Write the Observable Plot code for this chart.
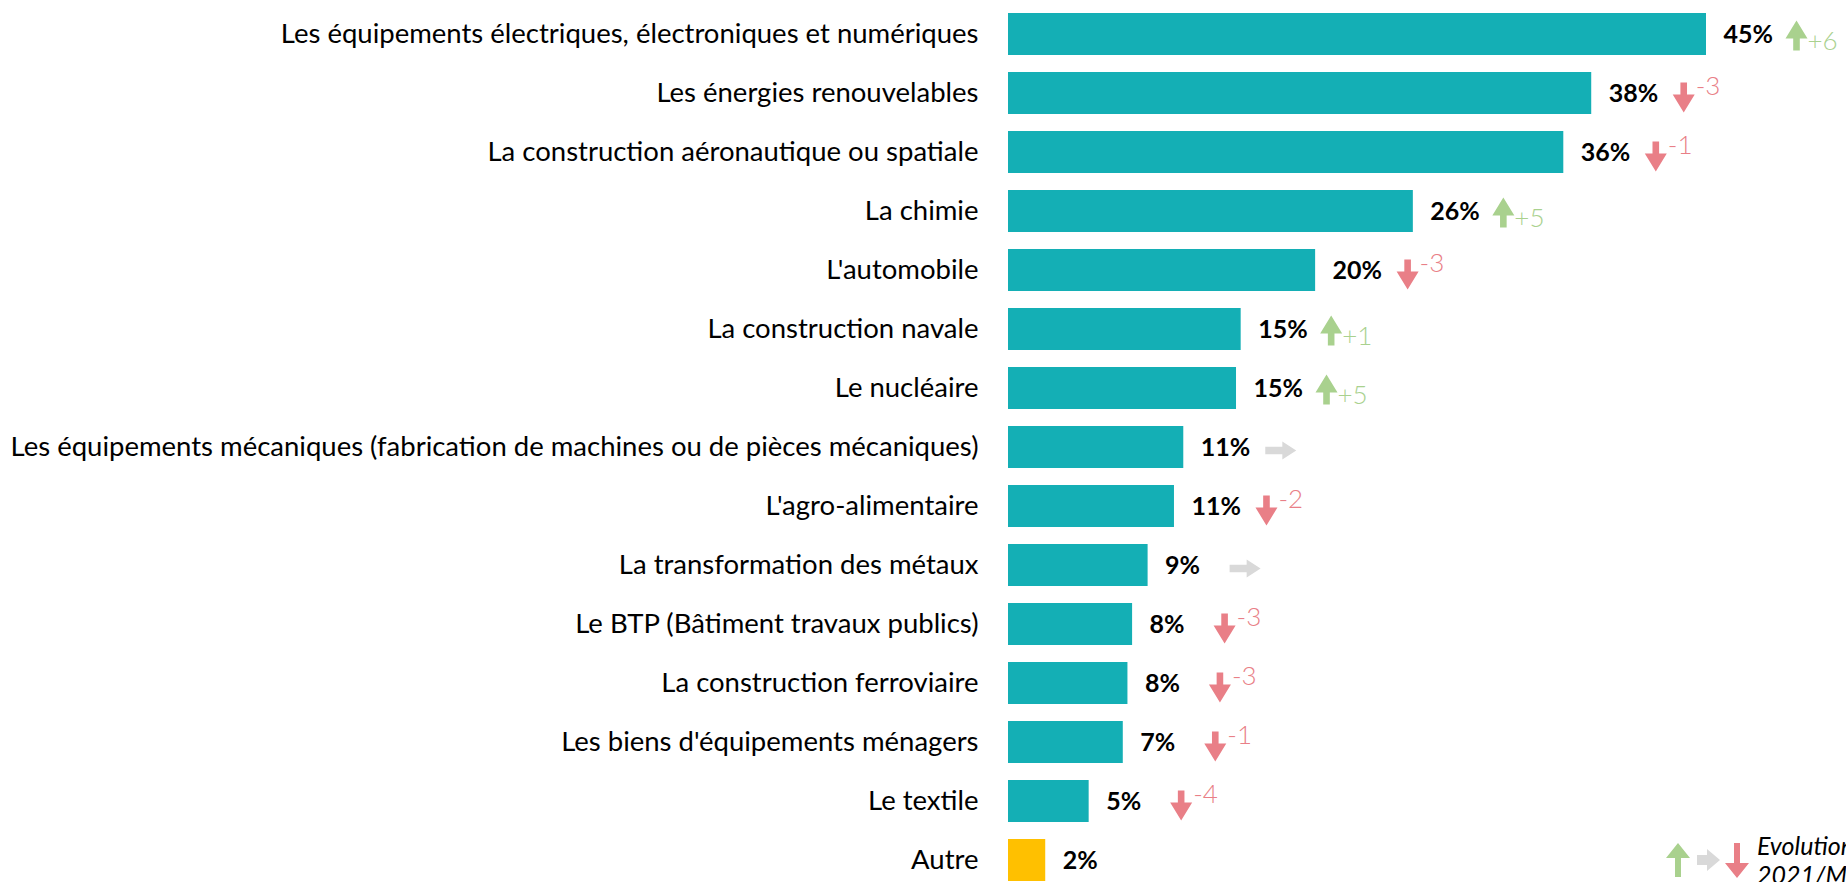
<!DOCTYPE html>
<html>
<head>
<meta charset="utf-8">
<script src="https://cdn.jsdelivr.net/npm/d3@7"></script>
<script src="https://cdn.jsdelivr.net/npm/@observablehq/plot@0.6"></script>
<style>
  html, body { margin: 0; padding: 0; background: #fff; overflow: hidden; }
  #wrap { position: relative; width: 1846px; height: 882px; overflow: hidden; }
  #legend { position: absolute; left: 1666px; top: 831px; display: flex; align-items: center; white-space: nowrap; }
  #legend .txt { font-family: Lato, "Open Sans", sans-serif; font-style: italic; font-size: 25px; line-height: 29px; color: #000; margin-left: 7px; }
</style>
</head>
<body>
<div id="wrap">
  <div id="chart"></div>
  <div id="legend">
    <svg width="84" height="36" viewBox="0 0 84 36">
      <polygon points="12,1 24,16 15,16 15,35 9,35 9,16 0,16" fill="#a9d18e"/>
      <polygon points="31,13 41,13 41,7 54,18 41,29 41,23 31,23" fill="#d9d9d9"/>
      <polygon points="71,36 59,21 68,21 68,1 74,1 74,21 83,21" fill="#e97f87"/>
    </svg>
    <div class="txt">Evolution vs<br>2021/Mars 2023</div>
  </div>
</div>
<script>
const categories = [
  "Les équipements électriques, électroniques et numériques",
  "Les énergies renouvelables",
  "La construction aéronautique ou spatiale",
  "La chimie",
  "L'automobile",
  "La construction navale",
  "Le nucléaire",
  "Les équipements mécaniques (fabrication de machines ou de pièces mécaniques)",
  "L'agro-alimentaire",
  "La transformation des métaux",
  "Le BTP (Bâtiment travaux publics)",
  "La construction ferroviaire",
  "Les biens d'équipements ménagers",
  "Le textile",
  "Autre"
];
const values = [45, 37.6, 35.8, 26.1, 19.8, 15.0, 14.7, 11.3, 10.7, 9.0, 8.0, 7.7, 7.4, 5.2, 2.4];
const valueLabels = ["45%", "38%", "36%", "26%", "20%", "15%", "15%", "11%", "11%", "9%", "8%", "8%", "7%", "5%", "2%"];
const deltas = [6, -3, -1, 5, -3, 1, 5, 0, -2, 0, -3, -3, -1, -4, null];
const groups = ["main", "main", "main", "main", "main", "main", "main", "main", "main", "main", "main", "main", "main", "main", "other"];

const TEAL = "#14afb5", YELLOW = "#ffc000", GREEN = "#a9d18e", RED = "#e97f87", GREY = "#d9d9d9";

const rows = categories.map((c, i) => ({
  category: c, value: values[i], label: valueLabels[i], delta: deltas[i], group: groups[i]
}));
const ups = rows.filter(d => d.delta != null && d.delta > 0);
const downs = rows.filter(d => d.delta != null && d.delta < 0);
const flats = rows.filter(d => d.delta === 0);

// filled block arrow pointing "up" in local coordinates
function makeArrow(headFrac, shaftFrac) {
  return {
    draw(ctx, l, r) {
      const hw = r, hl = l * headFrac, sw = r * shaftFrac;
      ctx.moveTo(-sw, 0);
      ctx.lineTo(-sw, -l + hl);
      ctx.lineTo(-hw, -l + hl);
      ctx.lineTo(0, -l);
      ctx.lineTo(hw, -l + hl);
      ctx.lineTo(sw, -l + hl);
      ctx.lineTo(sw, 0);
      ctx.closePath();
    }
  };
}
const blockArrow = makeArrow(0.6, 0.3);
const sideArrow = makeArrow(0.45, 0.42);

const chart = Plot.plot({
  width: 1846,
  height: 882,
  marginLeft: 1008,
  marginRight: 140,
  marginTop: 8,
  marginBottom: -4,
  style: { fontFamily: "Lato, 'Open Sans', sans-serif", fontSize: "27px", color: "#000", background: "#fff" },
  x: { domain: [0, d3.max(values)], axis: null },
  y: { domain: categories, paddingInner: 0.29, paddingOuter: 0, align: 0.5, label: null },
  color: { domain: ["main", "other"], range: [TEAL, YELLOW] },
  marks: [
    Plot.barX(rows, { x: "value", y: "category", fill: "group" }),
    Plot.axisY({ tickSize: 0, tickPadding: 30, fontSize: 27.5, fill: "#000", label: null }),
    Plot.text(rows, { x: "value", y: "category", text: "label", dx: 17, textAnchor: "start", fontWeight: "bold", fontSize: 25, fill: "#000" }),
    Plot.vector(ups, { x: "value", y: "category", dx: 90, dy: 1, length: 30, r: 11, rotate: 0, anchor: "middle", shape: blockArrow, fill: GREEN, stroke: "none" }),
    Plot.vector(downs, { x: "value", y: "category", dx: 92, dy: 4, length: 30, r: 11, rotate: 180, anchor: "middle", shape: blockArrow, fill: RED, stroke: "none" }),
    Plot.vector(flats, { x: "value", y: "category", dx: 97, dy: 3, length: 31, r: 9, rotate: 90, anchor: "middle", shape: sideArrow, fill: GREY, stroke: "none" }),
    Plot.text(ups, { x: "value", y: "category", text: d => "+" + d.delta, dx: 101, dy: 7, textAnchor: "start", fontSize: 26, fontWeight: 300, fill: GREEN }),
    Plot.text(downs, { x: "value", y: "category", text: d => "-" + Math.abs(d.delta), dx: 104, dy: -7, textAnchor: "start", fontSize: 26, fontWeight: 300, fill: RED })
  ]
});
document.getElementById("chart").appendChild(chart);
</script>
</body>
</html>
